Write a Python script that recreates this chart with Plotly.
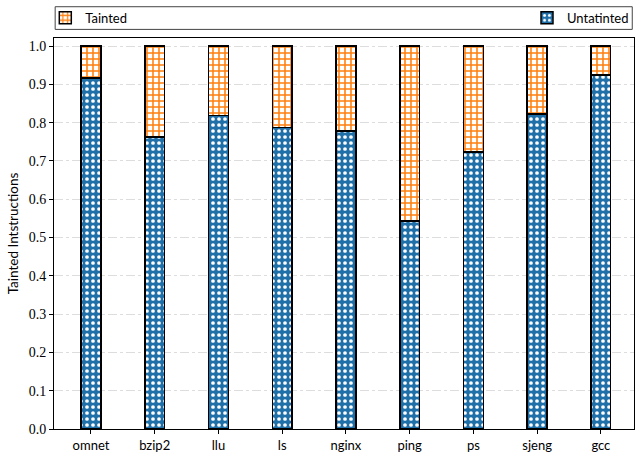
import plotly.graph_objects as go

benchmarks = ["omnet", "bzip2", "llu", "ls", "nginx", "ping", "ps", "sjeng", "gcc"]
untainted = [0.916, 0.762, 0.818, 0.787, 0.778, 0.543, 0.723, 0.823, 0.924]
tainted = [round(1 - u, 3) for u in untainted]
yticks = [0.0, 0.1, 0.2, 0.3, 0.4, 0.5, 0.6, 0.7, 0.8, 0.9, 1.0]

BLUE = "#1f6fa8"
ORANGE = "#ff7f0e"
x = list(range(len(benchmarks)))

fig = go.Figure()
fig.add_trace(go.Bar(
    x=x, y=untainted, name="Untatinted", width=0.31, showlegend=True,
    marker=dict(color=BLUE, line=dict(color="black", width=1.5),
                pattern=dict(shape=".", bgcolor=BLUE, fgcolor="white",
                             size=6, solidity=0.3, fillmode="replace")),
    legend="legend2",
))
fig.add_trace(go.Bar(
    x=x, y=tainted, name="Tainted", width=0.31, showlegend=True,
    marker=dict(color="white", line=dict(color="black", width=1.5),
                pattern=dict(shape="+", bgcolor="white", fgcolor=ORANGE,
                             size=6, solidity=0.45, fillmode="replace")),
    legend="legend",
))

# legend frame spanning the plot width
fig.add_shape(type="rect", xref="paper", yref="paper",
              x0=0.002, x1=0.997, y0=1.022, y1=1.08,
              line=dict(color="#444", width=1), fillcolor="white", layer="below")

fig.update_layout(
    width=635, height=454,
    margin=dict(l=54, r=1, t=38, b=25),
    barmode="stack",
    showlegend=True,
    plot_bgcolor="white", paper_bgcolor="white",
    font=dict(family="Lato", size=13, color="black"),
    legend=dict(x=-0.015, y=1.09, xanchor="left", yanchor="top",
                orientation="h", bgcolor="rgba(0,0,0,0)", visible=True,
                font=dict(size=13), itemwidth=30),
    legend2=dict(x=1.0, y=1.09, xanchor="right", yanchor="top",
                 orientation="h", bgcolor="rgba(0,0,0,0)", visible=True,
                 font=dict(size=13), itemwidth=30),
    xaxis=dict(tickmode="array", tickvals=x, ticktext=benchmarks,
               range=[-0.58, 8.52], showline=True, linecolor="black",
               linewidth=1, mirror=True, ticks="outside", ticklen=4,
               tickcolor="black", showgrid=False, zeroline=False),
    yaxis=dict(range=[0, 1.021], tickvals=yticks,
               ticktext=[f"{v:.1f}" for v in yticks],
               tickfont=dict(family="Liberation Serif", size=14),
               showline=True, linecolor="black", linewidth=1, mirror=True,
               ticks="outside", ticklen=4, tickcolor="black",
               showgrid=True, gridcolor="#dddddd", griddash="dashdot",
               gridwidth=1, zeroline=False,
               title=dict(text="Tainted Intstructions", standoff=6,
                          font=dict(size=13.5))),
)

fig.write_html("out.html")
